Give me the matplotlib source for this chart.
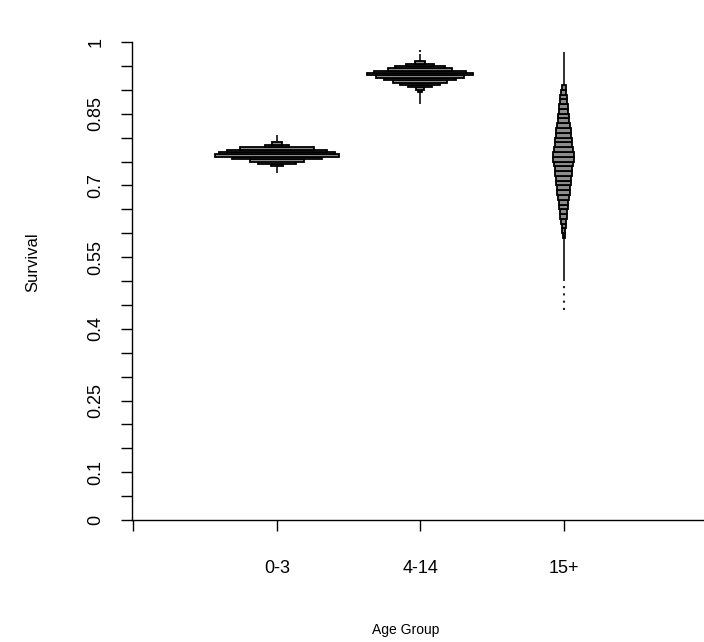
import numpy as np
import matplotlib
matplotlib.use("Agg")
import matplotlib.pyplot as plt

plt.rcParams['font.family'] = ['Liberation Sans', 'DejaVu Sans']

groups = ["0-3", "4-14", "15+"]

# posterior draws of survival per age group, binned (counts per bin, low -> high)
lo_0_3 = 0.725
bw_0_3 = 0.005
counts_0_3 = [0, 0, 0, 60, 190, 270, 450, 620, 580, 500, 370, 120, 50, 0, 0, 0]

lo_4_14 = 0.870
bw_4_14 = 0.005
counts_4_14 = [0, 0, 0, 0, 0, 20, 40, 120, 200, 270, 360, 440, 530, 460,
               320, 250, 140, 50, 0, 0, 0]

lo_15 = 0.50
bw_15 = 0.01
counts_15 = [0, 0, 0, 0, 0, 0, 0, 0, 0,
             10, 15, 20, 25, 30, 35, 40, 45, 50, 60, 65, 70, 75, 80, 85, 95,
             105, 100, 90, 80, 80, 75, 70, 65, 55, 50, 45, 40, 35, 30, 25, 20,
             0, 0, 0, 0, 0, 0, 0]

# isolated single draws outside the main histogram (dotted)
tails = {"0-3": [], "4-14": [(0.979, 0.984)], "15+": [(0.44, 0.49)]}

hists = [(lo_0_3, bw_0_3, counts_0_3),
         (lo_4_14, bw_4_14, counts_4_14),
         (lo_15, bw_15, counts_15)]

yticks = np.arange(0, 1.0001, 0.05)
ylabels_shown = [0, 0.1, 0.25, 0.4, 0.55, 0.7, 0.85, 1]

wscale = 0.0014

fig = plt.figure(figsize=(7.04, 6.42), dpi=100)
ax = fig.add_axes([132/704, 122/642, 572/704, 478/642])

for i, g in enumerate(groups):
    lo, bw, cnt = hists[i]
    cnt = np.array(cnt, dtype=float)
    edges = lo + bw*np.arange(len(cnt))
    x = i + 1
    ax.vlines(x, edges[0], edges[-1] + bw, color='#222222', lw=1.3, zorder=1)
    m = cnt > 0
    w = cnt[m]*wscale
    ax.barh(edges[m], w, height=bw, left=x - w/2, align='edge',
            color='#8c8c8c', edgecolor='black', linewidth=1.3, zorder=2)
    for a, b in tails[g]:
        ax.vlines(x, a, b, color='#222222', lw=1.5, linestyles=(0, (1, 2.5)),
                  zorder=1)

ax.set_xlim(-0.01, 3.98)
ax.set_ylim(0, 1)
ax.spines['top'].set_visible(False)
ax.spines['right'].set_visible(False)
ax.spines['left'].set_bounds(0, 1)
ax.spines['left'].set_linewidth(1.0)
ax.spines['bottom'].set_linewidth(1.0)

ax.set_xticks([0, 1, 2, 3])
ax.set_xticklabels([''] + groups)
ax.set_yticks(yticks)
ax.set_yticklabels([('%g' % v) if any(abs(v - s) < 1e-9 for s in ylabels_shown)
                    else '' for v in yticks])
ax.tick_params(length=8, width=1.0, direction='out', labelsize=13)
ax.tick_params(axis='x', pad=21)
ax.tick_params(axis='y', pad=12, labelrotation=90)
for lab in ax.get_yticklabels():
    lab.set_va('center')

ax.set_ylabel("Survival", fontsize=12)
ax.yaxis.set_label_coords(-0.161, 0.54)
ax.set_xlabel("Age Group", fontsize=10)
ax.xaxis.set_label_coords(0.479, -0.215)

fig.savefig("out.png", dpi=100)
